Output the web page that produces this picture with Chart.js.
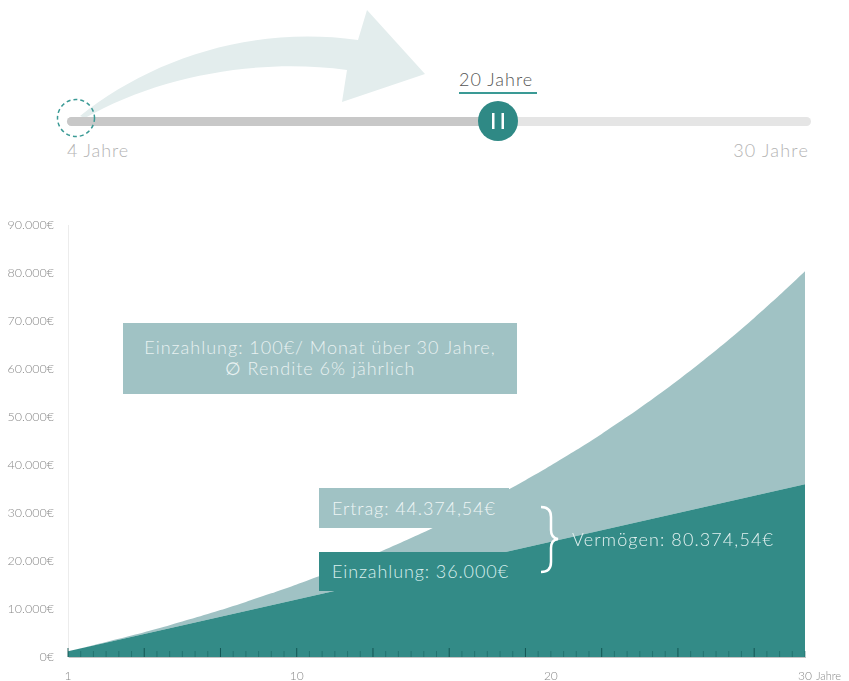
<!DOCTYPE html>
<html>
<head>
<meta charset="utf-8">
<script src="https://cdn.jsdelivr.net/npm/chart.js@4"></script>
<style>
    body { margin: 0; background: #fff; font-family: 'Lato', 'Open Sans', sans-serif; font-weight: 300; }
    #page { position: relative; width: 849px; height: 681px; overflow: hidden; }
    .abs { position: absolute; white-space: nowrap; }
    #chart-wrap { position: absolute; left: 0; top: 200px; width: 849px; height: 481px; }
    .box { position: absolute; color: #eef5f5; font-size: 18px; letter-spacing: 0.9px; white-space: nowrap; }
</style>
</head>
<body>
<div id="page">
    <svg class="abs" style="left:0;top:0" width="849" height="200">
        <path d="M80,116 C150,60 250,25 358,40 L367,10 L425,74 L342,102 L347,70 C260,58 160,75 85,118 Z" fill="#e3eded"/>
        <rect x="67" y="117" width="744" height="9" rx="4.5" fill="#e5e5e5"/>
        <rect x="67" y="117" width="431" height="9" rx="4.5" fill="#c8c8c8"/>
        <circle cx="76" cy="118" r="18.5" fill="none" stroke="#3a9a95" stroke-width="1.5" stroke-dasharray="4 3"/>
        <circle cx="498" cy="121" r="20" fill="#2f8985"/>
        <rect x="492" y="113" width="2.5" height="16" fill="#fff"/>
        <rect x="501.5" y="113" width="2.5" height="16" fill="#fff"/>
        <rect x="459" y="92" width="78" height="2" fill="#3a9a95"/>
    </svg>
    <div class="abs" style="left:459px;top:68px;font-size:18px;letter-spacing:1px;color:#555;">20 Jahre</div>
    <div class="abs" style="left:67px;top:139px;font-size:18px;letter-spacing:0.9px;color:#b3b3b3;">4 Jahre</div>
    <div class="abs" style="right:40px;top:139px;font-size:18px;letter-spacing:1.2px;color:#b3b3b3;">30 Jahre</div>

    <div id="chart-wrap"><canvas id="growth-chart" width="849" height="481"></canvas></div>

    <div class="box" style="left:123px;top:323px;width:394px;height:71px;background:#a0c2c4;text-align:center;line-height:21px;padding-top:14px;box-sizing:border-box;color:#e8f1f1;letter-spacing:1px;">
        Einzahlung: 100€/ Monat über 30 Jahre,<br>∅ Rendite 6% jährlich
    </div>
    <div class="box" style="left:319px;top:488px;width:190px;height:40px;background:#a0c2c4;line-height:40px;padding-left:13px;box-sizing:border-box;">Ertrag: 44.374,54€</div>
    <div class="box" style="left:319px;top:552px;width:194px;height:39px;background:#338b87;line-height:39px;padding-left:13px;box-sizing:border-box;color:#d9efee;">Einzahlung: 36.000€</div>
    <svg class="abs" style="left:0;top:0" width="849" height="681" pointer-events="none">
        <path d="M541,507 Q551,507 551,517 L551,530 Q551,538 558,539 Q551,540 551,548 L551,562 Q551,572 541,572" fill="none" stroke="#fff" stroke-width="2.5"/>
    </svg>
    <div class="abs" style="left:572px;top:528px;font-size:18px;letter-spacing:1.1px;color:#e3f1f0;">Vermögen: 80.374,54€</div>
</div>

<script>
const years = [1, 2, 3, 4, 5, 6, 7, 8, 9, 10, 11, 12, 13, 14, 15, 16, 17, 18, 19, 20, 21, 22, 23, 24, 25, 26, 27, 28, 29, 30];
const einzahlung = [1200, 2400, 3600, 4800, 6000, 7200, 8400, 9600, 10800, 12000, 13200, 14400, 15600, 16800, 18000, 19200, 20400, 21600, 22800, 24000, 25200, 26400, 27600, 28800, 30000, 31200, 32400, 33600, 34800, 36000];
const vermoegen = [1200, 2460, 3790, 5180, 6640, 8170, 9790, 11480, 13260, 15130, 17090, 19160, 21320, 23600, 25990, 28500, 31140, 33920, 36830, 39890, 43100, 46480, 50030, 53760, 57670, 61780, 66100, 70640, 75410, 80375];
const shownTicks = { 1: '1', 10: '10', 20: '20', 30: '30' };

const tickMarks = {
    id: 'tickMarks',
    afterDatasetsDraw(chart) {
        const { ctx, chartArea, scales } = chart;
        ctx.save();
        for (let i = 0; i <= 29; i += 0.5) {
            const x = scales.x.getPixelForValue(i);
            const major = i % 3 === 0;
            ctx.strokeStyle = major ? 'rgba(15,80,78,0.9)' : 'rgba(25,100,97,0.6)';
            ctx.lineWidth = 1;
            ctx.beginPath();
            ctx.moveTo(x, chartArea.bottom - (major ? 9 : 6));
            ctx.lineTo(x, chartArea.bottom);
            ctx.stroke();
        }
        // unit after the last tick label
        const last = scales.x.getPixelForValue(29);
        ctx.font = '300 11px Lato';
        ctx.fillStyle = '#888';
        ctx.textBaseline = 'middle';
        ctx.fillText('Jahre', last + 11, chartArea.bottom + 19);
        ctx.restore();
    }
};

const ctx = document.getElementById('growth-chart');

new Chart(ctx, {
    type: 'line',
    data: {
        labels: years,
        datasets: [
            {
                label: 'Einzahlung',
                data: einzahlung,
                backgroundColor: '#338b87',
                borderWidth: 0,
                pointRadius: 0,
                fill: 'origin'
            },
            {
                label: 'Vermögen',
                data: vermoegen,
                backgroundColor: '#a0c2c4',
                borderWidth: 0,
                pointRadius: 0,
                tension: 0.2,
                fill: '-1'
            }
        ]
    },
    options: {
        responsive: false,
        animation: false,
        layout: { padding: { top: 25, right: 44, left: 0, bottom: 0 } },
        plugins: {
            legend: { display: false },
            tooltip: { enabled: false }
        },
        scales: {
            x: {
                offset: false,
                grid: { display: false },
                border: { display: true, color: '#c4c4c4', width: 1 },
                ticks: {
                    autoSkip: false,
                    maxRotation: 0,
                    padding: 4,
                    color: '#888',
                    font: { family: 'Lato', size: 12, weight: '300' },
                    callback: function (value, index) {
                        return shownTicks[years[index]] || '';
                    }
                },
                afterFit: function (scale) { scale.height = 24; }
            },
            y: {
                min: 0,
                max: 90000,
                grid: { display: false },
                border: { display: true, color: '#ececec', width: 1 },
                ticks: {
                    stepSize: 10000,
                    padding: 6,
                    color: '#8a8a8a',
                    font: { family: 'Lato', size: 12.5, weight: '300' },
                    callback: function (value) {
                        return value.toLocaleString('de-DE') + '€';
                    }
                },
                afterFit: function (scale) { scale.width = 68; }
            }
        }
    },
    plugins: [tickMarks]
});
</script>
</body>
</html>
